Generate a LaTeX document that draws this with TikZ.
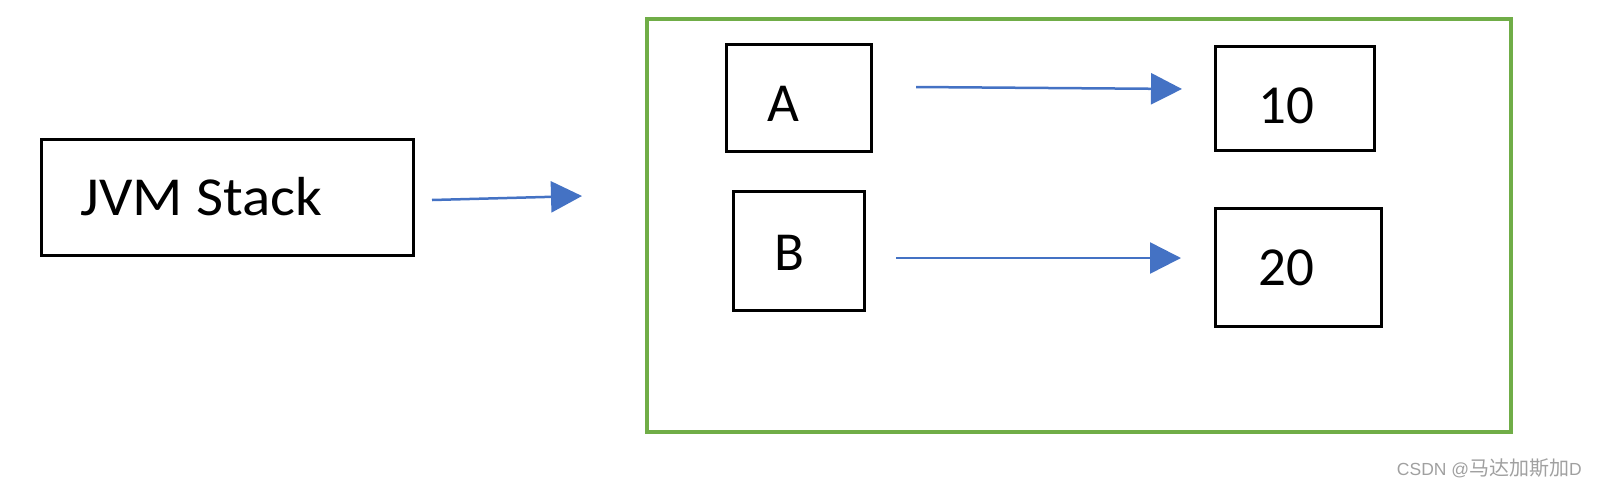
\documentclass[tikz,border=0pt]{standalone}
\usepackage{fontspec}
\setmainfont{Carlito}
\newfontfamily\wmlatin{Liberation Sans}
\newfontfamily\wmcjk{Noto Sans CJK SC}
\usetikzlibrary{arrows.meta}
\definecolor{arrowblue}{HTML}{4472C4}
\definecolor{framegreen}{HTML}{70AD47}
\definecolor{wmgrey}{HTML}{A0A0A0}
\tikzset{
  box/.style={draw=black, line width=3pt, inner sep=0pt, fill=none},
  lbl/.style={anchor=base, inner sep=0pt, font=\fontsize{55}{60}\selectfont},
  conn/.style={draw=arrowblue, line width=2.5pt, -{Triangle[length=31pt,width=31pt]}},
}
\begin{document}
\begin{tikzpicture}[x=1pt,y=-1pt]
\useasboundingbox (0,0) rectangle (1597,488);
% frame
\node[draw=framegreen, line width=4pt, inner sep=0pt, minimum width=864pt, minimum height=413pt] (heap) at (1079,225.5) {};
% boxes
\node[box, minimum width=372pt, minimum height=116pt] (jvm) at (227.5,197.5) {};
\node[box, minimum width=145pt, minimum height=107pt] (a) at (799,98) {};
\node[box, minimum width=131pt, minimum height=119pt] (b) at (799,251) {};
\node[box, minimum width=159pt, minimum height=104pt] (v10) at (1295,98.5) {};
\node[box, minimum width=166pt, minimum height=118pt] (v20) at (1298.5,267.5) {};
% labels
\node[lbl, xscale=1.07] (tjvm) at (201.5,215) {JVM Stack};
\node[lbl] (ta) at (783.5,121) {A};
\node[lbl] (tb) at (789,270) {B};
\node[lbl] (t10) at (1286,123) {10};
\node[lbl] (t20) at (1286,285) {20};
% connector ends
\coordinate (s1) at (432,200);
\coordinate (e1) at (582,196);
\coordinate (s2) at (916,87);
\coordinate (e2) at (1182,89);
\coordinate (s3) at (896,258);
\coordinate (e3) at (1181,258);
\draw[conn] (s1) -- (e1);
\draw[conn] (s2) -- (e2);
\draw[conn] (s3) -- (e3);
% watermark
\node[anchor=base east, inner sep=0pt, text=wmgrey] (wm) at (1582,475) {\wmlatin\fontsize{17.5}{20}\selectfont CSDN @\wmcjk\fontsize{20}{22}\selectfont 马达加斯加\wmlatin\fontsize{17.5}{20}\selectfont D};
\end{tikzpicture}
\end{document}
